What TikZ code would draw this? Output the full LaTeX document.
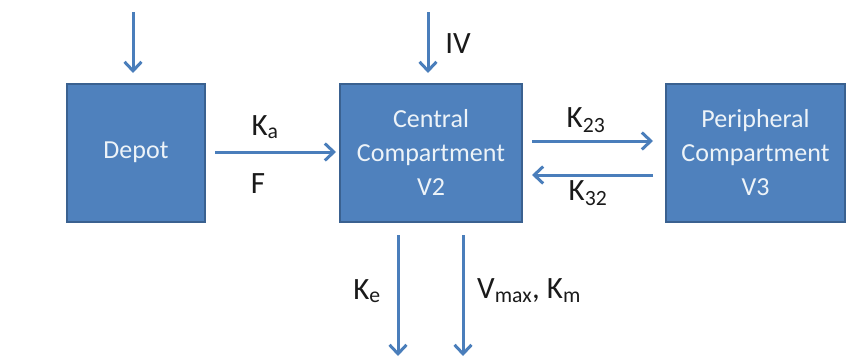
\documentclass[tikz,border=0pt]{standalone}
\usepackage{fontspec}
\setmainfont{Carlito}
\usetikzlibrary{arrows.meta}
\definecolor{boxfill}{HTML}{4F81BD}
\definecolor{boxline}{HTML}{3A6190}
\definecolor{arrowc}{HTML}{4A7EBB}
\definecolor{labc}{HTML}{1A1A1A}
\begin{document}
\begin{tikzpicture}[x=1pt,y=-1pt,
  compbox/.style={draw=boxline,line width=2pt,fill=boxfill,text=white!90!boxfill,
    minimum height=138pt,align=center,inner sep=0pt,
    font=\fontsize{26}{34}\selectfont},
  flow/.style={draw=arrowc,line width=3pt,-{Straight Barb[length=9pt,width=17pt,line width=3pt]}},
  lab/.style={text=labc,font=\fontsize{31}{36}\selectfont,inner sep=0pt}]
\useasboundingbox (0,0) rectangle (850,356);
\node[compbox,minimum width=138pt] (depot) at (136,152.5) {Depot};
\node[compbox,minimum width=182pt] (central) at (431,152.5) {Central\\Compartment\\V2};
\node[compbox,minimum width=179pt] (periph) at (755.5,152.5) {Peripheral\\Compartment\\V3};
\coordinate (dtop) at (133,12);
\coordinate (dend) at (133,73);
\coordinate (ivtop) at (428,12);
\coordinate (ivend) at (428,73);
\coordinate (kastart) at (215,152);
\coordinate (kaend) at (336,152);
\coordinate (k23s) at (532,141);
\coordinate (k23e) at (653,141);
\coordinate (k32s) at (653,175);
\coordinate (k32e) at (532,175);
\coordinate (kes) at (398,235);
\coordinate (kee) at (398,356);
\coordinate (vms) at (463,235);
\coordinate (vme) at (463,356);
\draw[flow] (dtop) -- (dend);
\draw[flow] (ivtop) -- (ivend);
\draw[flow] (kastart) -- (kaend);
\draw[flow] (k23s) -- (k23e);
\draw[flow] (k32s) -- (k32e);
\draw[flow] (kes) -- (kee);
\draw[flow] (vms) -- (vme);
\node[lab] (iv) at (458,44) {IV};
\node[lab] (ka) at (265,127) {K\textsubscript{a}};
\node[lab] (f) at (258,184) {F};
\node[lab] (k23) at (586,120) {K\textsubscript{23}};
\node[lab] (k32) at (588,193) {K\textsubscript{32}};
\node[lab] (ke) at (367,291) {K\textsubscript{e}};
\node[lab,anchor=west] (vmax) at (477,291) {V\textsubscript{max}, K\textsubscript{m}};
\end{tikzpicture}
\end{document}
